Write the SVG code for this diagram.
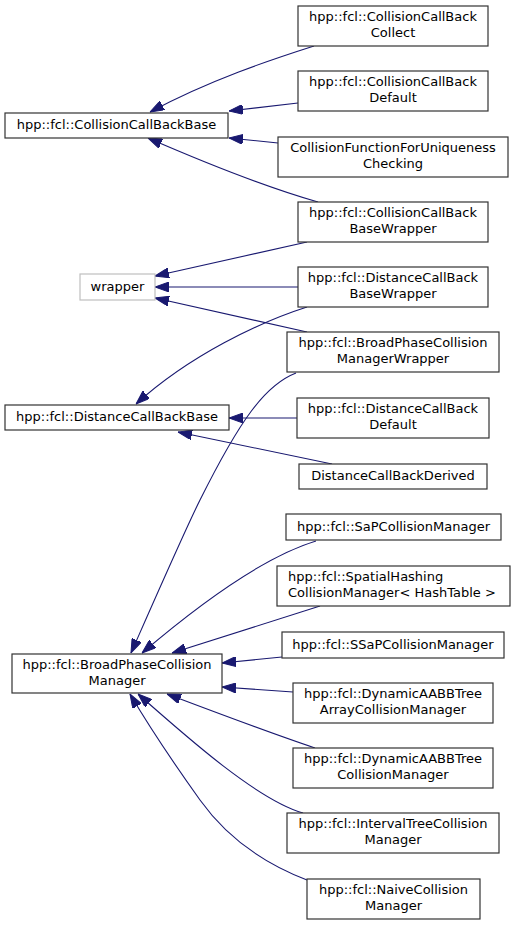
<svg xmlns="http://www.w3.org/2000/svg" width="515" height="925" viewBox="0 0 515 925">
<defs>
<marker id="arr" viewBox="0 0 14 10" refX="14" refY="5" markerWidth="14" markerHeight="10" markerUnits="userSpaceOnUse" orient="auto">
<path d="M0,0 L14,5 L0,10 z" fill="#191970" stroke="#191970" stroke-width="1"/>
</marker>
<style>
.n rect{fill:#fff;stroke:#333;stroke-width:1.2}
.g rect{fill:#fff;stroke:#bfbfbf;stroke-width:1.2}
text{font-family:"DejaVu Sans",Verdana,sans-serif;font-size:13px;fill:#000;text-anchor:middle}
.l{text-anchor:start}
#edges path{fill:none;stroke:#191970;stroke-width:1.1;marker-end:url(#arr)}
</style>
</defs>
<rect width="515" height="925" fill="#fff"/>
<g id="edges">
<path d="M314,46 C270,60 210,80 150,112"/>
<path d="M298,103 L229,111"/>
<path d="M278,143 L229,138"/>
<path d="M318,202 C290,194 240,178 148,138"/>
<path d="M307,242 L155,276"/>
<path d="M298,287 L155,287"/>
<path d="M307,332 L155,298"/>
<path d="M307,307 C260,322 190,355 136,404"/>
<path d="M297,418 L229,418"/>
<path d="M332,464 L178,432"/>
<path d="M296,373 C265,385 240,420 200,500 C185,530 150,610 131,653"/>
<path d="M316,541 C270,555 210,595 142,653"/>
<path d="M320,606 L172,653"/>
<path d="M282,657 L222,663"/>
<path d="M293,692 L222,687"/>
<path d="M315,748 C270,733 220,714 167,694"/>
<path d="M303,813 C258,800 190,740 138,694"/>
<path d="M307,880 C260,862 225,835 200,800 C175,765 150,728 130,694"/>
</g>
<g id="CollisionCallBackCollect" class="n"><rect x="298" y="6" width="190" height="40"/><text x="393" y="21">hpp::fcl::CollisionCallBack</text><text x="393" y="36.5">Collect</text></g>
<g id="CollisionCallBackDefault" class="n"><rect x="298" y="71" width="190" height="40"/><text x="393" y="86">hpp::fcl::CollisionCallBack</text><text x="393" y="101.5">Default</text></g>
<g id="CollisionCallBackBase" class="n"><rect x="5" y="113" width="223" height="25"/><text x="116.5" y="128.5">hpp::fcl::CollisionCallBackBase</text></g>
<g id="CollisionFunctionForUniquenessChecking" class="n"><rect x="278" y="137" width="230" height="40"/><text x="393" y="152">CollisionFunctionForUniqueness</text><text x="393" y="167.5">Checking</text></g>
<g id="CollisionCallBackBaseWrapper" class="n"><rect x="298" y="202" width="190" height="40"/><text x="393" y="217">hpp::fcl::CollisionCallBack</text><text x="393" y="232.5">BaseWrapper</text></g>
<g id="wrapper" class="g"><rect x="80" y="274" width="75" height="26"/><text x="117.5" y="291">wrapper</text></g>
<g id="DistanceCallBackBaseWrapper" class="n"><rect x="298" y="267" width="190" height="40"/><text x="393" y="282">hpp::fcl::DistanceCallBack</text><text x="393" y="297.5">BaseWrapper</text></g>
<g id="BroadPhaseCollisionManagerWrapper" class="n"><rect x="287" y="332" width="212" height="40"/><text x="393" y="347">hpp::fcl::BroadPhaseCollision</text><text x="393" y="362.5">ManagerWrapper</text></g>
<g id="DistanceCallBackBase" class="n"><rect x="5" y="405" width="224" height="25"/><text x="117" y="420.5">hpp::fcl::DistanceCallBackBase</text></g>
<g id="DistanceCallBackDefault" class="n"><rect x="297" y="398" width="192" height="40"/><text x="393" y="413">hpp::fcl::DistanceCallBack</text><text x="393" y="428.5">Default</text></g>
<g id="DistanceCallBackDerived" class="n"><rect x="299" y="464" width="188" height="25"/><text x="393" y="480">DistanceCallBackDerived</text></g>
<g id="SaPCollisionManager" class="n"><rect x="286" y="514" width="215" height="26"/><text x="393.5" y="530.5">hpp::fcl::SaPCollisionManager</text></g>
<g id="SpatialHashingCollisionManager" class="n"><rect x="277" y="566" width="233" height="40"/><text class="l" x="288" y="581">hpp::fcl::SpatialHashing</text><text class="l" x="288" y="596.5">CollisionManager&lt; HashTable &gt;</text></g>
<g id="SSaPCollisionManager" class="n"><rect x="282" y="632" width="222" height="26"/><text x="393" y="648.5">hpp::fcl::SSaPCollisionManager</text></g>
<g id="BroadPhaseCollisionManager" class="n"><rect x="12" y="654" width="210" height="39"/><text x="117" y="669">hpp::fcl::BroadPhaseCollision</text><text x="117" y="684.5">Manager</text></g>
<g id="DynamicAABBTreeArrayCollisionManager" class="n"><rect x="293" y="683" width="200" height="40"/><text x="393" y="698">hpp::fcl::DynamicAABBTree</text><text x="393" y="713.5">ArrayCollisionManager</text></g>
<g id="DynamicAABBTreeCollisionManager" class="n"><rect x="293" y="748" width="200" height="40"/><text x="393" y="763">hpp::fcl::DynamicAABBTree</text><text x="393" y="778.5">CollisionManager</text></g>
<g id="IntervalTreeCollisionManager" class="n"><rect x="287" y="813" width="212" height="40"/><text x="393" y="828">hpp::fcl::IntervalTreeCollision</text><text x="393" y="843.5">Manager</text></g>
<g id="NaiveCollisionManager" class="n"><rect x="307" y="879" width="173" height="40"/><text x="393.5" y="894">hpp::fcl::NaiveCollision</text><text x="393.5" y="909.5">Manager</text></g>
</svg>
